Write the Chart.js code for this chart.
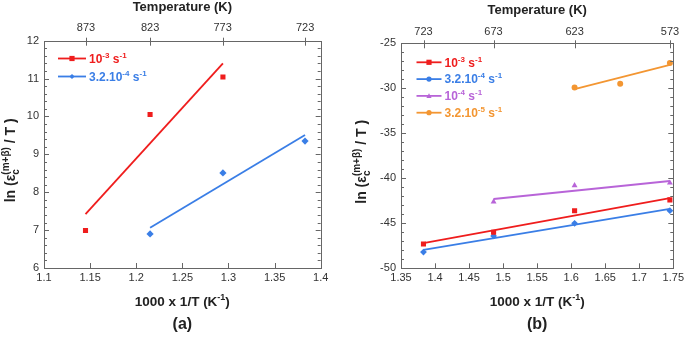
<!DOCTYPE html>
<html>
<head>
<meta charset="utf-8">
<script src="https://cdn.jsdelivr.net/npm/chart.js@4"></script>
<style>
  html, body { margin: 0; padding: 0; background: #fff; }
  #wrap { position: relative; width: 687px; height: 340px; }
  .panel { position: absolute; top: 0; height: 340px; }
</style>
</head>
<body>
<div id="wrap">
  <div class="panel" style="left:0;width:340px"><canvas id="chartA"></canvas></div>
  <div class="panel" style="left:340px;width:347px"><canvas id="chartB"></canvas></div>
</div>
<script>
// ---- panel (a) data ----
const aTemps = [873, 823, 773, 723];
const aRedX = [1.145, 1.215, 1.294];
const aRedY = [6.99, 10.05, 11.04];
const aRedFitX = [1.145, 1.294];
const aRedFitY = [7.42, 11.40];
const aBlueX = [1.215, 1.294, 1.383];
const aBlueY = [6.90, 8.51, 9.35];
const aBlueFitX = [1.215, 1.383];
const aBlueFitY = [7.06, 9.51];

// ---- panel (b) data ----
const bTemps = [723, 673, 623, 573];
const bRedX = [1.383, 1.486, 1.605, 1.745];
const bRedY = [-47.3, -46.0, -43.6, -42.4];
const bRedFitX = [1.383, 1.745];
const bRedFitY = [-47.2, -42.2];
const bBlueX = [1.383, 1.486, 1.605, 1.745];
const bBlueY = [-48.2, -46.4, -45.0, -43.6];
const bBlueFitX = [1.383, 1.745];
const bBlueFitY = [-47.95, -43.4];
const bPurpleX = [1.486, 1.605, 1.745];
const bPurpleY = [-42.6, -40.8, -40.5];
const bPurpleFitX = [1.486, 1.745];
const bPurpleFitY = [-42.3, -40.3];
const bOrangeX = [1.605, 1.672, 1.745];
const bOrangeY = [-29.9, -29.5, -27.2];
const bOrangeFitX = [1.605, 1.745];
const bOrangeFitY = [-30.1, -27.4];

const labelsA = ['10^{-3} s^{-1}', '3.2.10^{-4} s^{-1}'];
const labelsB = ['10^{-3} s^{-1}', '3.2.10^{-4} s^{-1}', '10^{-4} s^{-1}', '3.2.10^{-5} s^{-1}'];

const RED = '#ef1d1d';
const BLUE = '#3a7ee6';
const PURPLE = '#b864d8';
const ORANGE = '#f39632';
const FAMILY = '"Liberation Sans", Arial, sans-serif';
const TICK_COLOR = '#333';

function pts(xs, ys) {
    return xs.map((x, i) => ({ x: x, y: ys[i] }));
}

// "10^{-3} s^{-1}" -> parts with normal / sup / sub pieces
function parseRich(str) {
    const parts = [];
    const re = /([\^_])\{([^}]*)\}|([^\^_]+)/g;
    let m;
    while ((m = re.exec(str))) {
        if (m[3]) parts.push({ t: m[3], k: 'n' });
        else parts.push({ t: m[2], k: m[1] === '^' ? 'sup' : 'sub' });
    }
    return parts;
}

function drawRich(ctx, str, x, y, size, color, align) {
    const parts = parseRich(str);
    const small = Math.round(size * 0.68);
    const fontFor = k => `bold ${k === 'n' ? size : small}px ${FAMILY}`;
    let w = 0;
    let prev = null;
    const items = [];
    parts.forEach(p => {
        ctx.font = fontFor(p.k);
        const pw = ctx.measureText(p.t).width;
        let px = w;
        if (p.k === 'sup' && prev && prev.k === 'sub') {
            px = prev.x;
            w = Math.max(prev.x + prev.w, px + pw);
        } else {
            w += pw;
        }
        const it = { t: p.t, k: p.k, x: px, w: pw };
        items.push(it);
        prev = it;
    });
    const x0 = align === 'left' ? x : x - w / 2;
    const base = y + size * 0.36;
    ctx.fillStyle = color;
    ctx.textAlign = 'left';
    ctx.textBaseline = 'alphabetic';
    items.forEach(it => {
        ctx.font = fontFor(it.k);
        let dy = 0;
        if (it.k === 'sup') dy = -size * 0.42;
        if (it.k === 'sub') dy = size * 0.28;
        ctx.fillText(it.t, x0 + it.x, base + dy);
    });
}

function drawMarker(ctx, style, x, y, r, color) {
    ctx.fillStyle = color;
    ctx.beginPath();
    if (style === 'rect') {
        ctx.rect(x - r, y - r, 2 * r, 2 * r);
    } else if (style === 'rectRot') {
        ctx.moveTo(x - r, y); ctx.lineTo(x, y - r); ctx.lineTo(x + r, y); ctx.lineTo(x, y + r);
        ctx.closePath();
    } else if (style === 'triangle') {
        ctx.moveTo(x, y - r); ctx.lineTo(x + r, y + r * 0.8); ctx.lineTo(x - r, y + r * 0.8);
        ctx.closePath();
    } else {
        ctx.arc(x, y, r, 0, Math.PI * 2);
    }
    ctx.fill();
}

// frame, inward ticks, titles and legend
const decoPlugin = {
    id: 'deco',
    afterDraw(chart, args, o) {
        const ctx = chart.ctx;
        const a = chart.chartArea;
        const xs = chart.scales.x;
        const ys = chart.scales.y;
        ctx.save();
        ctx.strokeStyle = '#666';
        ctx.lineWidth = 1;
        ctx.strokeRect(Math.round(a.left) + 0.5, Math.round(a.top) + 0.5,
            Math.round(a.right - a.left), Math.round(a.bottom - a.top));

        ctx.beginPath();
        // y major + minor ticks both sides
        for (let v = o.yMin; v <= o.yMax + 1e-9; v += o.yMinor) {
            const py = Math.round(ys.getPixelForValue(v)) + 0.5;
            const major = Math.abs(Math.round((v - o.yMin) / o.yMajor) * o.yMajor - (v - o.yMin)) < 1e-6;
            const len = major ? 5 : 3;
            ctx.moveTo(a.left, py); ctx.lineTo(a.left + len, py);
            ctx.moveTo(a.right, py); ctx.lineTo(a.right - len, py);
        }
        // bottom x ticks
        for (let v = o.xMin; v <= o.xMax + 1e-9; v += o.xStep) {
            const px = Math.round(xs.getPixelForValue(v)) + 0.5;
            ctx.moveTo(px, a.bottom); ctx.lineTo(px, a.bottom - 5);
        }
        // top temperature ticks
        o.temps.forEach(t => {
            const px = Math.round(xs.getPixelForValue(1000 / t)) + 0.5;
            ctx.moveTo(px, a.top - 3); ctx.lineTo(px, a.top + 5);
        });
        ctx.stroke();

        const cx = (a.left + a.right) / 2;
        drawRich(ctx, 'Temperature (K)', cx, o.topTitleY, 13, '#222', 'center');
        drawRich(ctx, '1000 x 1/T (K^{-1})', cx, 301, 13.5, '#222', 'center');
        drawRich(ctx, o.panel, cx, 323, 16, '#222', 'center');

        ctx.save();
        ctx.translate(o.yTitleX, (a.top + a.bottom) / 2 + 6);
        ctx.rotate(-Math.PI / 2);
        drawRich(ctx, 'ln (\u03b5_{c}^{(m+\u03b2)} / T )', 0, 0, 14, '#222', 'center');
        ctx.restore();

        // legend
        o.legend.forEach((item, i) => {
            const y = o.legY + i * o.legGap;
            ctx.strokeStyle = item.color;
            ctx.lineWidth = 1.8;
            ctx.beginPath();
            ctx.moveTo(o.legX, y); ctx.lineTo(o.legX + o.legLen, y);
            ctx.stroke();
            drawMarker(ctx, item.style, o.legX + o.legLen / 2, y, 2.6, item.color);
            drawRich(ctx, item.label, o.legX + o.legLen + 3, y, 12, item.color, 'left');
        });
        ctx.restore();
    }
};

function scatterSet(xs, ys, color, style, r) {
    return {
        data: pts(xs, ys), showLine: false, pointStyle: style, pointRadius: r,
        backgroundColor: color, borderColor: color, borderWidth: 0
    };
}

function fitSet(xs, ys, color) {
    return {
        data: pts(xs, ys), showLine: true, pointRadius: 0, borderColor: color,
        borderWidth: 1.8, backgroundColor: color
    };
}

function makeChart(id, cfg) {
    const tickFont = { family: FAMILY, size: 11 };
    const fmt = v => String(+Number(v).toFixed(2));
    return new Chart(document.getElementById(id), {
        type: 'scatter',
        data: { datasets: cfg.datasets },
        options: {
            responsive: true,
            maintainAspectRatio: false,
            animation: false,
            layout: { padding: { left: 0, right: cfg.padRight, top: 0, bottom: 0 } },
            plugins: {
                legend: { display: false },
                tooltip: { enabled: false },
                deco: cfg.deco
            },
            scales: {
                x: {
                    type: 'linear', position: 'bottom', min: cfg.xMin, max: cfg.xMax,
                    afterFit: s => { s.height = cfg.bottomH; },
                    ticks: { stepSize: cfg.xStep, padding: 3, font: tickFont, color: TICK_COLOR, callback: fmt, maxRotation: 0 },
                    grid: { display: false, drawTicks: false },
                    border: { display: false }
                },
                x2: {
                    type: 'linear', position: 'top', min: cfg.xMin, max: cfg.xMax,
                    afterFit: s => { s.height = cfg.topH; },
                    afterBuildTicks: s => { s.ticks = cfg.temps.map(t => ({ value: 1000 / t })); },
                    ticks: { padding: cfg.topPad, font: tickFont, color: TICK_COLOR, maxRotation: 0, autoSkip: false,
                        callback: v => String(Math.round(1000 / v)) },
                    grid: { display: false, drawTicks: false },
                    border: { display: false }
                },
                y: {
                    type: 'linear', position: 'left', min: cfg.yMin, max: cfg.yMax,
                    afterFit: s => { s.width = cfg.leftW; },
                    ticks: { stepSize: cfg.yStep, padding: 5, font: tickFont, color: TICK_COLOR, callback: fmt },
                    grid: { display: false, drawTicks: false },
                    border: { display: false }
                }
            }
        },
        plugins: [decoPlugin]
    });
}

makeChart('chartA', {
    xMin: 1.1, xMax: 1.4, xStep: 0.05, yMin: 6, yMax: 12, yStep: 1,
    temps: aTemps, leftW: 44, padRight: 19.3, topH: 40.7, bottomH: 72, topPad: 6,
    datasets: [
        fitSet(aRedFitX, aRedFitY, RED),
        fitSet(aBlueFitX, aBlueFitY, BLUE),
        scatterSet(aRedX, aRedY, RED, 'rect', 3.6),
        scatterSet(aBlueX, aBlueY, BLUE, 'rectRot', 3.6)
    ],
    deco: {
        yMin: 6, yMax: 12, yMajor: 1, yMinor: 0.2, xMin: 1.1, xMax: 1.4, xStep: 0.05,
        temps: aTemps, panel: '(a)', topTitleY: 6.5, yTitleX: 10,
        legX: 58, legY: 58.5, legGap: 18, legLen: 28,
        legend: [
            { label: labelsA[0], color: RED, style: 'rect' },
            { label: labelsA[1], color: BLUE, style: 'rectRot' }
        ]
    }
});

makeChart('chartB', {
    xMin: 1.35, xMax: 1.75, xStep: 0.05, yMin: -50, yMax: -25, yStep: 5,
    temps: bTemps, leftW: 61, padRight: 13.7, topH: 43.3, bottomH: 71.7, topPad: 4.5,
    datasets: [
        fitSet(bRedFitX, bRedFitY, RED),
        fitSet(bBlueFitX, bBlueFitY, BLUE),
        fitSet(bPurpleFitX, bPurpleFitY, PURPLE),
        fitSet(bOrangeFitX, bOrangeFitY, ORANGE),
        scatterSet(bRedX, bRedY, RED, 'rect', 3.6),
        scatterSet(bBlueX, bBlueY, BLUE, 'rectRot', 3.4),
        scatterSet(bPurpleX, bPurpleY, PURPLE, 'triangle', 3.4),
        scatterSet(bOrangeX, bOrangeY, ORANGE, 'circle', 3)
    ],
    deco: {
        yMin: -50, yMax: -25, yMajor: 5, yMinor: 1, xMin: 1.35, xMax: 1.75, xStep: 0.05,
        temps: bTemps, panel: '(b)', topTitleY: 9.5, yTitleX: 21,
        legX: 76.5, legY: 62.3, legGap: 16.8, legLen: 25,
        legend: [
            { label: labelsB[0], color: RED, style: 'rect' },
            { label: labelsB[1], color: BLUE, style: 'circle' },
            { label: labelsB[2], color: PURPLE, style: 'triangle' },
            { label: labelsB[3], color: ORANGE, style: 'circle' }
        ]
    }
});
</script>
</body>
</html>
